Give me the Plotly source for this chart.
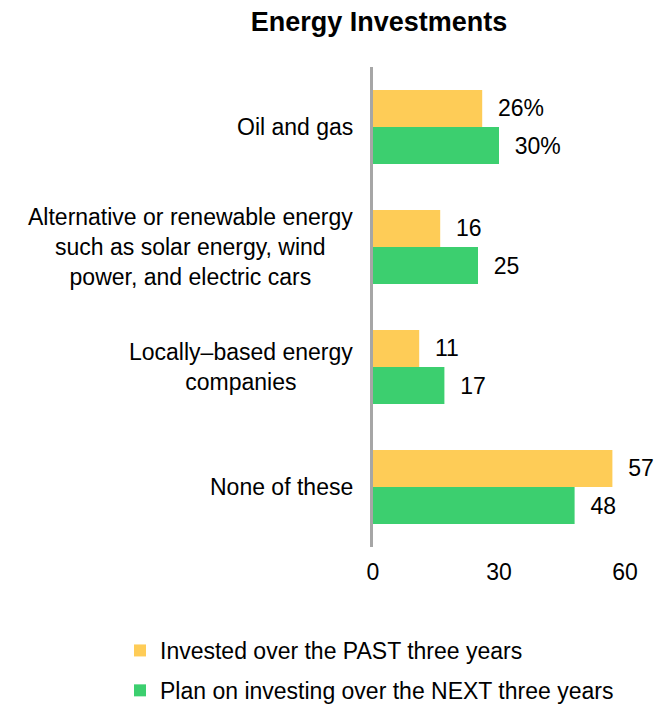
import plotly.graph_objects as go

# Survey categories (top to bottom) and share of respondents
categories = [
    "Oil and gas",
    "Alternative or renewable energy<br>such as solar energy, wind<br>power, and electric cars",
    "Locally\u2013based energy<br>companies",
    "None of these",
]
past_values = [26, 16, 11, 57]
next_values = [30, 25, 17, 48]
series_names = [
    "Invested over the PAST three years",
    "Plan on investing over the NEXT three years",
]
x_ticks = [0, 30, 60]

YELLOW = "#FECC57"
GREEN = "#3CCF6F"
FONT = "Arial, Liberation Sans, sans-serif"
FS = 23


def labels(values):
    # the first row carries a percent sign, the rest are plain numbers
    out = []
    for i, v in enumerate(values):
        s = f"{v}%" if i == 0 else f"{v}"
        out.append("&nbsp;&nbsp;" + s)
    return out


fig = go.Figure()
for name, vals, color, grp in [
    (series_names[0], past_values, YELLOW, "a"),
    (series_names[1], next_values, GREEN, "b"),
]:
    fig.add_trace(go.Bar(
        name=name,
        y=categories,
        x=vals,
        orientation="h",
        marker=dict(color=color, line=dict(width=0)),
        text=labels(vals),
        textposition="outside",
        textfont=dict(family=FONT, size=FS, color="black"),
        cliponaxis=False,
        constraintext="none",
        legendgroup=grp,
        hoverinfo="skip",
    ))

# Category labels, centered line by line, to the left of the axis
for cat in categories:
    fig.add_annotation(
        x=0, xref="paper", y=cat, yref="y",
        text=cat, showarrow=False,
        xanchor="right", yanchor="middle", align="center",
        xshift=-18,
        font=dict(family=FONT, size=FS, color="black"),
    )

fig.update_layout(
    width=664, height=704,
    margin=dict(l=373, r=39, t=67, b=157, autoexpand=False),
    paper_bgcolor="white", plot_bgcolor="white",
    barmode="group", bargap=0.383, bargroupgap=0,
    title=dict(
        text="<b>Energy Investments</b>",
        x=379 / 664, xref="container", xanchor="center",
        y=1 - 22 / 704, yref="container", yanchor="middle",
        font=dict(family=FONT, size=27, color="black"),
    ),
    xaxis=dict(
        range=[0, 60], tickvals=x_ticks, ticktext=[str(t) for t in x_ticks],
        showgrid=False, zeroline=False, showline=False, ticks="",
        ticklabelstandoff=9, tickangle=0, automargin=False,
        tickfont=dict(family=FONT, size=FS, color="black"),
        fixedrange=True,
    ),
    yaxis=dict(
        autorange="reversed", showticklabels=False, ticks="",
        showgrid=False, zeroline=False, automargin=False,
        showline=True, linecolor="#A6A6A6", linewidth=2.5,
        fixedrange=True,
    ),
    showlegend=True,
    legend=dict(
        orientation="v",
        xref="container", yref="container",
        x=120 / 664, xanchor="left",
        y=1 - 629 / 704, yanchor="top",
        traceorder="grouped", tracegroupgap=7,
        font=dict(family=FONT, size=FS, color="black"),
        bgcolor="rgba(0,0,0,0)",
    ),
)

fig.write_html("out.html")
